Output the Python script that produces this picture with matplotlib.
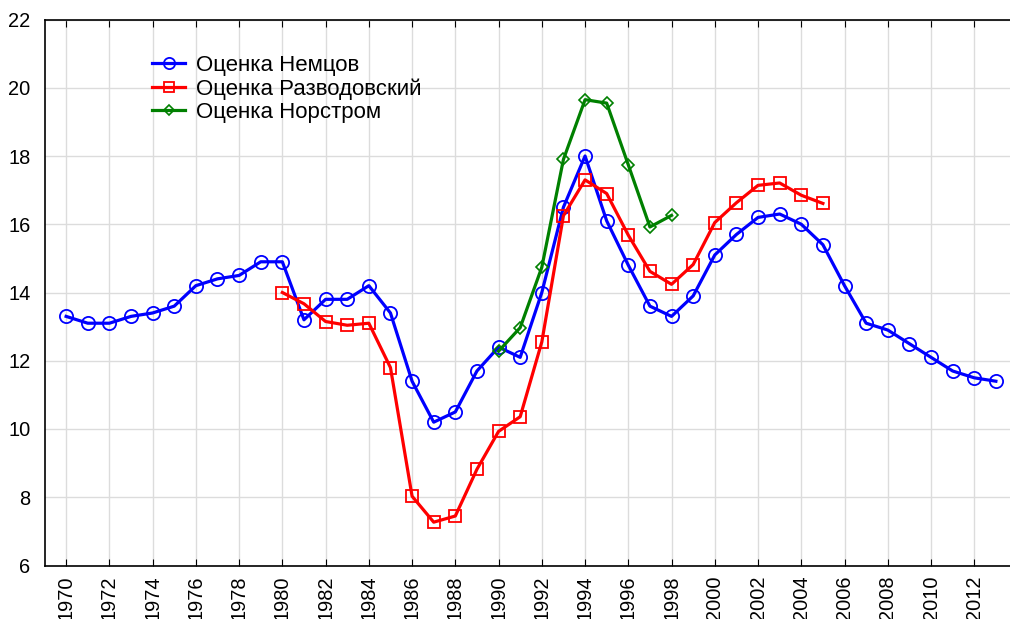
import numpy as np
import matplotlib.pyplot as plt

plt.rcParams['font.family'] = ['Liberation Sans', 'DejaVu Sans']

# Оценка Немцов, 1970-2013
years_nem = list(range(1970, 2014))
nemtsov = [13.3, 13.1, 13.1, 13.3, 13.4, 13.6, 14.2, 14.4, 14.5, 14.9,
           14.9, 13.2, 13.8, 13.8, 14.2, 13.4, 11.4, 10.2, 10.5, 11.7,
           12.4, 12.1, 14.0, 16.5, 18.0, 16.1, 14.8, 13.6, 13.3, 13.9,
           15.1, 15.7, 16.2, 16.3, 16.0, 15.4, 14.2, 13.1, 12.9, 12.5,
           12.1, 11.7, 11.5, 11.4]

# Оценка Разводовский, 1980-2005
years_raz = list(range(1980, 2006))
razvod = [14.0, 13.67, 13.15, 13.04, 13.1, 11.8, 8.03, 7.27, 7.45, 8.82,
          9.93, 10.36, 12.55, 16.25, 17.3, 16.9, 15.68, 14.62, 14.24, 14.82,
          16.05, 16.63, 17.14, 17.21, 16.85, 16.61]

# Оценка Норстром, 1990-1998
years_nor = list(range(1990, 1999))
norstrom = [12.28, 12.97, 14.74, 17.9, 19.65, 19.55, 17.74, 15.92, 16.26]

tick_years = list(range(1970, 2013, 2))

fig = plt.figure(figsize=(10.1, 6.19), dpi=100)
ax = fig.add_axes([44.5 / 1010, 53.5 / 619, 973 / 1010, 546 / 619])

ax.plot(years_nem, nemtsov, '-o', color='#0000ff', lw=2.3, ms=9.5, mfc='none', mew=1.3,
        label='Оценка Немцов', zorder=3)
ax.plot(years_raz, razvod, '-s', color='#ff0000', lw=2.3, ms=9, mfc='none', mew=1.3,
        label='Оценка Разводовский', zorder=4)
ax.plot(years_nor, norstrom, '-D', color='#008000', lw=2.3, ms=6.5, mfc='none', mew=1.2,
        label='Оценка Норстром', zorder=5)

ax.set_xlim(1969, 2014)
ax.set_ylim(6, 22)
ax.set_xticks(tick_years)
ax.set_xticklabels([str(y) for y in tick_years], rotation=90, fontsize=14.4)
ax.set_yticks(range(6, 23, 2))
ax.tick_params(axis='y', labelsize=14.4, length=0, pad=10)
ax.tick_params(axis='x', direction='in', top=True, length=5, pad=7)
ax.grid(True, color='#dcdcdc', lw=1)
ax.set_axisbelow(True)
for s in ax.spines.values():
    s.set_linewidth(1.2)

leg = ax.legend(loc='upper left', bbox_to_anchor=(152 / 1010, 1 - 55 / 619),
                bbox_transform=fig.transFigure, frameon=False, fontsize=16,
                handlelength=1.5, handletextpad=0.5, labelspacing=0.1, borderpad=0,
                borderaxespad=0, markerscale=0.85)

fig.savefig('out.png', dpi=100)
